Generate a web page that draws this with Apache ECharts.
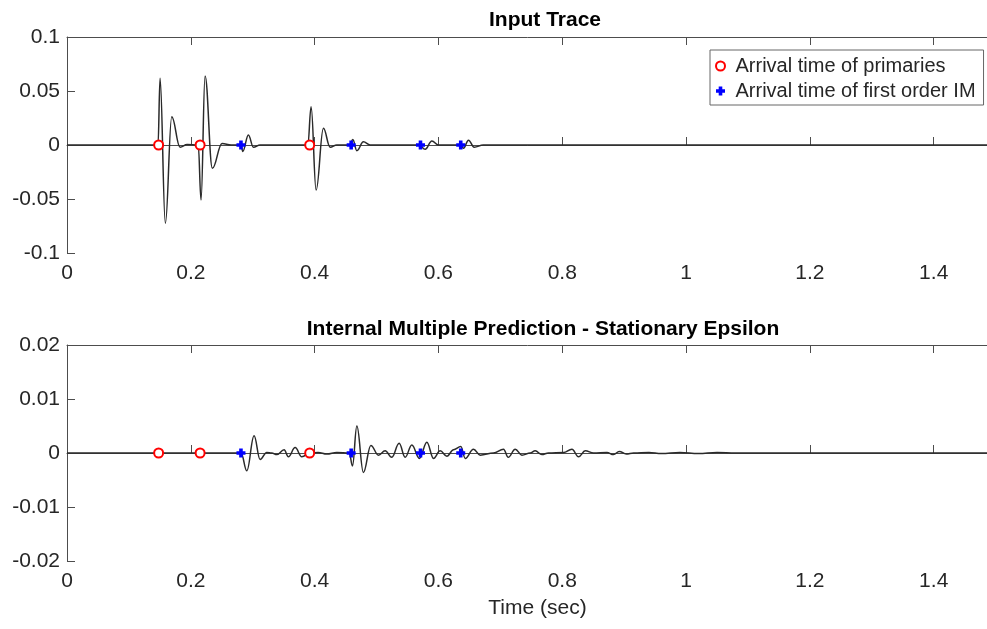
<!DOCTYPE html>
<html>
<head>
<meta charset="utf-8">
<script src="https://cdn.jsdelivr.net/npm/echarts@6/dist/echarts.min.js"></script>
<style>
html, body { margin: 0; padding: 0; background: #fff; }
#chart { width: 987px; height: 629px; }
</style>
</head>
<body>
<div id="chart"></div>
<script>
// input trace (sec, amplitude)
var inputTime = [0, 0.140, 0.1470, 0.1503, 0.1589, 0.1692, 0.1826, 0.1940, 0.2120, 0.2165, 0.2230, 0.2348, 0.2505, 0.2650,
    0.2812, 0.2839, 0.2930, 0.3011, 0.3119, 0.3890, 0.3943, 0.4024, 0.4142, 0.4250, 0.4358,
    0.4570, 0.4617, 0.4682, 0.4788, 0.4897, 0.5690, 0.5785, 0.5894, 0.6000,
    0.6362, 0.6404, 0.6485, 0.6577, 0.6723, 1.52];
var inputAmp = [0, 0, 0, 0.0618, -0.0725, 0.0262, -0.0020, 0.0005, 0, -0.051, 0.0639, -0.0216, 0.0015, 0,
    0, -0.006, 0.0093, -0.002, 0, 0, 0.0355, -0.0417, 0.0154, -0.002, 0,
    0, 0.005, -0.0053, 0.003, 0, 0, -0.004, 0.0037, 0,
    0, -0.003, 0.0045, -0.002, 0, 0];

// predicted internal multiples
var predTime = [0, 0.2812, 0.2904, 0.3022, 0.3119, 0.3227, 0.3308, 0.3389, 0.3507, 0.3576, 0.3685, 0.3793, 0.3927,
    0.4056, 0.4197, 0.4358, 0.4560, 0.4611, 0.4682, 0.4788, 0.4908, 0.5031, 0.5139, 0.5247, 0.5365, 0.5462,
    0.5570, 0.5693, 0.5813, 0.5920, 0.6028, 0.6136, 0.6243, 0.6362, 0.6432, 0.6566, 0.6674, 0.6889,
    0.7051, 0.7128, 0.7240, 0.7348, 0.7482, 0.7563, 0.7671, 0.7778, 0.8020, 0.8156, 0.8263, 0.8371, 0.8505,
    0.8722, 0.8828, 0.8921, 0.9034, 0.9152, 0.94, 0.96, 0.99, 1.02, 1.05, 1.08, 1.52];
var predAmp = [0, 0, -0.0033, 0.0032, -0.0012, 0.0001, 0, -0.0003, 0.0006, -0.0007, 0.001, -0.0007, 0,
    0.0001, -0.0002, 0.0001, 0, -0.0024, 0.005, -0.0036, 0.0014, -0.0004, 0.0004, -0.0008, 0.0018, -0.0008,
    0.0015, -0.001, 0.002, -0.001, 0.0004, -0.0006, 0.0006, 0.0012, -0.001, 0.0007, -0.0004, 0,
    0.0007, -0.0008, 0.0007, -0.0004, 0, 0.0004, -0.0003, 0, 0.0001, 0.0007, -0.0007, 0.0004, 0,
    0.0001, -0.0003, 0.0003, -0.0002, 0, 0.0001, -0.0001, 0.0001, -0.0001, 0.0001, 0, 0];

var primaryTime = [0.148, 0.215, 0.392];
var imTime = [0.281, 0.459, 0.571, 0.636];

var font = 'Liberation Sans';
var axisColor = '#4d4d4d';
var textColor = '#262626';
var plusPath = 'path://M3,0H7V3H10V7H7V10H3V7H0V3H3Z';

function pairs(xs, ys) {
    return xs.map(function (x, i) { return [x, ys[i]]; });
}
function onZero(xs) {
    return xs.map(function (x) { return [x, 0]; });
}
function xLabel(v) {
    var k = v * 5;
    return Math.abs(k - Math.round(k)) < 1e-6 ? String(+v.toFixed(1)) : '';
}

function bottomX(idx) {
    return {
        type: 'value', gridIndex: idx, min: 0, max: 1.52, interval: 0.2,
        axisLine: { show: true, lineStyle: { color: axisColor, width: 1 } },
        axisTick: { show: true, inside: true, length: 8, lineStyle: { color: axisColor } },
        axisLabel: { formatter: xLabel, color: textColor, fontFamily: font, fontSize: 21, margin: 10 },
        splitLine: { show: false }
    };
}
function topX(idx) {
    return {
        type: 'value', gridIndex: idx, position: 'top', min: 0, max: 1.52, interval: 0.2,
        axisLine: { show: true, lineStyle: { color: axisColor, width: 1 } },
        axisTick: { show: true, inside: true, length: 8, lineStyle: { color: axisColor } },
        axisLabel: { show: false },
        splitLine: { show: false }
    };
}
function leftY(idx, lim, step) {
    return {
        type: 'value', gridIndex: idx, min: -lim, max: lim, interval: step,
        axisLine: { show: true, lineStyle: { color: axisColor, width: 1 } },
        axisTick: { show: true, inside: true, length: 8, lineStyle: { color: axisColor } },
        axisLabel: { color: textColor, fontFamily: font, fontSize: 21, margin: 7 },
        splitLine: { show: false }
    };
}

var xb2 = bottomX(1);
xb2.name = 'Time (sec)';
xb2.nameLocation = 'middle';
xb2.nameGap = 37;
xb2.nameTextStyle = { color: textColor, fontFamily: font, fontSize: 21 };

var chart = echarts.init(document.getElementById('chart'));
chart.setOption({
    animation: false,
    backgroundColor: '#fff',
    title: [
        { text: 'Input Trace', left: 540, top: 5, textAlign: 'center',
          textStyle: { fontFamily: font, fontSize: 21, fontWeight: 'bold', color: '#000' } },
        { text: 'Internal Multiple Prediction - Stationary Epsilon', left: 538, top: 314, textAlign: 'center',
          textStyle: { fontFamily: font, fontSize: 21, fontWeight: 'bold', color: '#000' } }
    ],
    legend: {
        orient: 'vertical', left: 710, top: 50,
        padding: [6, 8, 4, 5], itemGap: 5, itemWidth: 20, itemHeight: 9,
        backgroundColor: '#fff', borderColor: '#666', borderWidth: 1,
        textStyle: { fontFamily: font, fontSize: 20, color: textColor, lineHeight: 20 },
        data: [
            { name: 'Arrival time of primaries', icon: 'emptyCircle' },
            { name: 'Arrival time of first order IM', icon: plusPath }
        ]
    },
    grid: [
        { left: 67, top: 37, width: 941, height: 216, outerBoundsMode: 'none', containLabel: false },
        { left: 67, top: 345, width: 941, height: 216, outerBoundsMode: 'none', containLabel: false }
    ],
    xAxis: [bottomX(0), xb2, topX(0), topX(1)],
    yAxis: [leftY(0, 0.1, 0.05), leftY(1, 0.02, 0.01)],
    series: [
        { type: 'line', name: 'Input', xAxisIndex: 0, yAxisIndex: 0, data: pairs(inputTime, inputAmp),
          showSymbol: false, smooth: 0.4, smoothMonotone: 'x', lineStyle: { color: '#2a2a2a', width: 1.5 }, z: 2 },
        { type: 'line', name: 'Prediction', xAxisIndex: 1, yAxisIndex: 1, data: pairs(predTime, predAmp),
          showSymbol: false, smooth: 0.4, smoothMonotone: 'x', lineStyle: { color: '#2a2a2a', width: 1.5 }, z: 2 },
        { type: 'scatter', name: 'Arrival time of primaries', xAxisIndex: 0, yAxisIndex: 0, data: onZero(primaryTime),
          symbol: 'emptyCircle', symbolSize: 9, itemStyle: { color: '#ff0000', borderColor: '#ff0000', borderWidth: 2.4, opacity: 1 }, z: 5 },
        { type: 'scatter', name: 'Arrival time of first order IM', xAxisIndex: 0, yAxisIndex: 0, data: onZero(imTime),
          symbol: plusPath, symbolSize: 9, itemStyle: { color: '#0000ff', opacity: 1 }, z: 5 },
        { type: 'scatter', name: 'Arrival time of primaries', xAxisIndex: 1, yAxisIndex: 1, data: onZero(primaryTime),
          symbol: 'emptyCircle', symbolSize: 9, itemStyle: { color: '#ff0000', borderColor: '#ff0000', borderWidth: 2.4, opacity: 1 }, z: 5 },
        { type: 'scatter', name: 'Arrival time of first order IM', xAxisIndex: 1, yAxisIndex: 1, data: onZero(imTime),
          symbol: plusPath, symbolSize: 9, itemStyle: { color: '#0000ff', opacity: 1 }, z: 5 }
    ]
});
</script>
</body>
</html>
